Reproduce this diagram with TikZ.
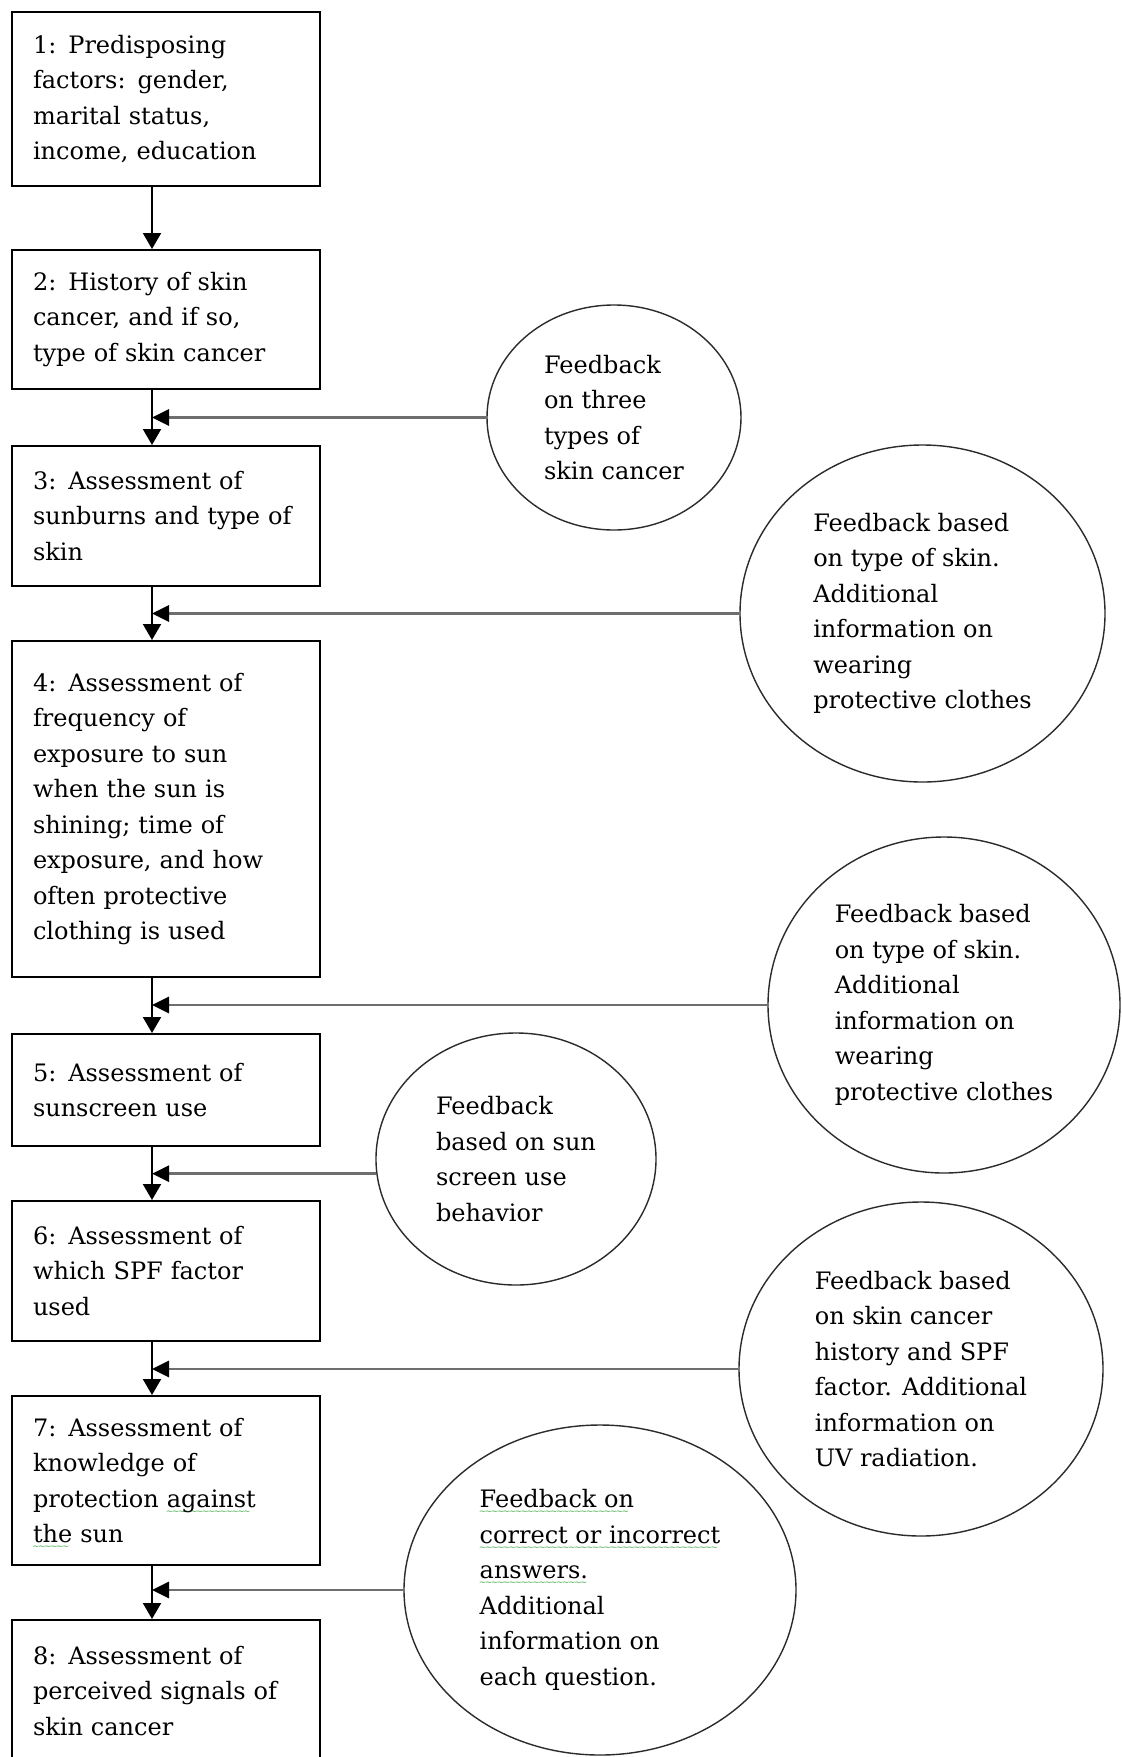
\documentclass[tikz,border=0pt]{standalone}
\usepackage{fontspec}
\setmainfont{DejaVu Serif}
\usetikzlibrary{shapes.geometric,arrows.meta}
\definecolor{FeedLine}{HTML}{6E6E6E}
\definecolor{BubbleLine}{HTML}{2B2B2B}
\definecolor{SpellGreen}{HTML}{4CAF50}
\newcommand{\spellmark}[1]{\leavevmode\setbox0\hbox{#1}\rlap{\raisebox{-7pt}[0pt][0pt]{\color{SpellGreen}\hbox to \wd0{\fontsize{9pt}{9pt}\selectfont\leaders\hbox{\kern-0.8pt\char126\kern-0.8pt}\hfill}}}\box0\relax}

\begin{document}
\begin{tikzpicture}[x=1pt,y=-1pt,
    stage/.style={draw=black,line width=2pt,minimum width=308pt,inner xsep=21pt,text width=266pt,align=left,font=\fontsize{24pt}{35.5pt}\selectfont},
    bubble/.style={draw=BubbleLine,line width=1.4pt,ellipse,inner sep=0pt,align=left,font=\fontsize{24pt}{35.5pt}\selectfont},
    flow/.style={line width=2pt,-{Triangle[width=18pt,length=16pt]}},
    feed/.style={draw=FeedLine,line width=2.8pt,-{Triangle[width=16pt,length=17pt,color=black]}}]
  \useasboundingbox (0,0) rectangle (1122,1757);
  \fill[white] (0,0) rectangle (1122,1757);
  \clip (0,0) rectangle (1122,1757);
  \coordinate (spine) at (152,0);

  \node[stage,minimum height=174pt] (s1) at (166,99) {1: Predisposing\\factors: gender,\\marital status,\\income, education};
  \node[stage,minimum height=139pt] (s2) at (166,319.5) {2: History of skin\\cancer, and if so,\\type of skin cancer};
  \node[stage,minimum height=140pt] (s3) at (166,516) {3: Assessment of\\sunburns and type of\\skin};
  \node[stage,minimum height=336pt] (s4) at (166,809) {4: Assessment of\\frequency of\\exposure to sun\\when the sun is\\shining; time of\\exposure, and how\\often protective\\clothing is used};
  \node[stage,minimum height=112pt] (s5) at (166,1090) {5: Assessment of\\sunscreen use};
  \node[stage,minimum height=140pt] (s6) at (166,1271) {6: Assessment of\\which SPF factor\\used};
  \node[stage,minimum height=169pt] (s7) at (166,1480.5) {7: Assessment of\\knowledge of\\protection \spellmark{against}\\\spellmark{the} sun};
  \node[stage,minimum height=142pt] (s8) at (166,1691) {8: Assessment of\\perceived signals of\\skin cancer};

  \node[bubble,minimum width=254pt,minimum height=225pt] (f1) at (614,417.5) {Feedback\\on three\\types of\\skin cancer};
  \node[bubble,minimum width=365pt,minimum height=337pt] (f2) at (922.5,613.5) {Feedback based\\on type of skin.\\Additional\\information on\\wearing\\protective clothes};
  \node[bubble,minimum width=352pt,minimum height=336pt] (f3) at (944,1005) {Feedback based\\on type of skin.\\Additional\\information on\\wearing\\protective clothes};
  \node[bubble,minimum width=280pt,minimum height=252pt] (f4) at (516,1159) {Feedback\\based on sun\\screen use\\behavior};
  \node[bubble,minimum width=364pt,minimum height=334pt] (f5) at (921,1369) {Feedback based\\on skin cancer\\history and SPF\\factor. Additional\\information on\\UV radiation.};
  \node[bubble,minimum width=392pt,minimum height=330pt] (f6) at (600,1590) {\spellmark{Feedback on}\\\spellmark{correct or incorrect}\\\spellmark{answers.}\\Additional\\information on\\each question.};

  \draw[flow] (s1.south -| spine) -- (s2.north -| spine);
  \draw[flow] (s2.south -| spine) -- (s3.north -| spine);
  \draw[flow] (s3.south -| spine) -- (s4.north -| spine);
  \draw[flow] (s4.south -| spine) -- (s5.north -| spine);
  \draw[flow] (s5.south -| spine) -- (s6.north -| spine);
  \draw[flow] (s6.south -| spine) -- (s7.north -| spine);
  \draw[flow] (s7.south -| spine) -- (s8.north -| spine);

  \draw[feed] (f1.west) -- (f1.west -| spine);
  \draw[feed] (f2.west) -- (f2.west -| spine);
  \draw[feed] (f3.west) -- (f3.west -| spine);
  \draw[feed] (f4.186) -- (f4.186 -| spine);
  \draw[feed] (f5.west) -- (f5.west -| spine);
  \draw[feed] (f6.west) -- (f6.west -| spine);
\end{tikzpicture}
\end{document}
